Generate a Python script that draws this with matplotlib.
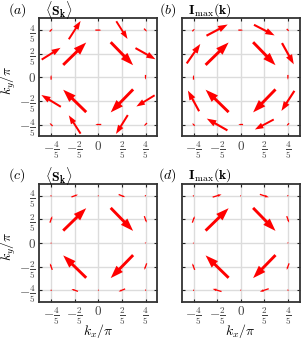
import numpy as np
import matplotlib
matplotlib.use('Agg')
import matplotlib.pyplot as plt

plt.rcParams['mathtext.fontset'] = 'cm'
plt.rcParams['font.family'] = 'serif'
plt.rcParams['font.serif'] = ['DejaVu Serif']

# k points (units of pi), 5x5 grid without the empty centre cross
kx = [-0.8, -0.4, 0.0, 0.4, 0.8,
      -0.8, -0.4, 0.4, 0.8,
      -0.8, 0.8,
      -0.8, -0.4, 0.4, 0.8,
      -0.8, -0.4, 0.0, 0.4, 0.8]
ky = [0.8, 0.8, 0.8, 0.8, 0.8,
      0.4, 0.4, 0.4, 0.4,
      0.0, 0.0,
      -0.4, -0.4, -0.4, -0.4,
      -0.8, -0.8, -0.8, -0.8, -0.8]

# (a) <S_k>
u_a = [0.05, 0.20, 0.10, 0.19, 0.05,
       0.32, 0.39, 0.38, 0.34,
       0.0, 0.0,
       -0.33, -0.39, -0.38, -0.31,
       -0.05, -0.20, -0.10, -0.20, -0.05]
v_a = [0.05, 0.31, 0.0, -0.30, -0.05,
       0.20, 0.38, -0.39, -0.19,
       0.08, -0.08,
       0.20, 0.38, -0.39, -0.19,
       0.05, 0.31, 0.0, -0.32, -0.05]

# (b) I_max(k)
u_b = [0.04, 0.36, 0.08, 0.35, 0.04,
       0.23, 0.39, 0.38, 0.20,
       0.0, 0.0,
       -0.19, -0.39, -0.38, -0.22,
       -0.04, -0.35, -0.08, -0.32, -0.04]
v_b = [0.04, 0.19, 0.0, -0.18, -0.04,
       0.33, 0.38, -0.39, -0.36,
       0.08, -0.08,
       0.35, 0.38, -0.39, -0.34,
       0.04, 0.20, 0.0, -0.17, -0.04]

# (c) <S_k>
u_c = [0.015, 0.11, 0.015, 0.11, 0.015,
       0.04, 0.39, 0.38, 0.04,
       0.0, 0.0,
       -0.04, -0.39, -0.38, -0.04,
       -0.015, -0.11, -0.015, -0.11, -0.015]
v_c = [0.015, 0.04, 0.0, -0.045, -0.015,
       0.11, 0.38, -0.39, -0.11,
       0.015, -0.015,
       0.11, 0.38, -0.39, -0.11,
       0.015, 0.04, 0.0, -0.045, -0.015]

# (d) I_max(k)
u_d = [0.015, 0.15, 0.015, 0.15, 0.015,
       0.04, 0.39, 0.38, 0.04,
       0.0, 0.0,
       -0.04, -0.39, -0.38, -0.04,
       -0.015, -0.15, -0.015, -0.15, -0.015]
v_d = [0.015, 0.045, 0.0, -0.05, -0.015,
       0.11, 0.38, -0.39, -0.11,
       0.015, -0.015,
       0.11, 0.38, -0.39, -0.11,
       0.015, 0.045, 0.0, -0.05, -0.015]

ticks = [-0.8, -0.4, 0.0, 0.4, 0.8]
tick_labels = [r'$-\frac{4}{5}$', r'$-\frac{2}{5}$', r'$0$', r'$\frac{2}{5}$', r'$\frac{4}{5}$']

panels = [
    ('(a)', r'$\langle\mathbf{S}_\mathbf{k}\rangle$', u_a, v_a),
    ('(b)', r'$\mathbf{I}_{\max}(\mathbf{k})$', u_b, v_b),
    ('(c)', r'$\langle\mathbf{S}_\mathbf{k}\rangle$', u_c, v_c),
    ('(d)', r'$\mathbf{I}_{\max}(\mathbf{k})$', u_d, v_d),
]

W, H = 302, 338
fig = plt.figure(figsize=(W / 100, H / 100), dpi=100)

lefts = [39.3, 181.7]
tops = [18.3, 184.0]
size = 118.0

for i, (tag, name, u, v) in enumerate(panels):
    row, col = divmod(i, 2)
    left = lefts[col]
    top = tops[row]
    ax = fig.add_axes([left / W, 1 - (top + size) / H, size / W, size / H])
    ax.set_xlim(-1, 1)
    ax.set_ylim(-1, 1)
    ax.set_aspect('equal')
    ax.set_xticks(ticks)
    ax.set_yticks(ticks)
    ax.set_xticklabels(tick_labels, fontsize=9.5)
    if col == 0:
        ax.set_yticklabels(tick_labels, fontsize=9.5)
    else:
        ax.set_yticklabels([])
    ax.tick_params(direction='in', length=2.5, width=0.8, top=True, right=True,
                   color='#222222', labelcolor='#444444', pad=2.5)
    ax.grid(True, color='#dcdcdc', lw=1.0)
    ax.set_axisbelow(True)
    for s in ax.spines.values():
        s.set_linewidth(1.3)
        s.set_color('#333333')

    for x, y, dx, dy in zip(kx, ky, u, v):
        L = np.hypot(dx, dy)
        if L == 0:
            continue
        w = max(0.09 * L, 0.022)
        hw = max(0.28 * L, w)
        hl = 0.4 * L
        ax.arrow(x - dx / 2, y - dy / 2, dx, dy, width=w, head_width=hw,
                 head_length=hl, length_includes_head=True, color='red',
                 lw=0, clip_on=False, zorder=3)

    ty = 1 - (top - 8.5) / H
    tag_x = 17 if col == 0 else 167.7
    name_x = 45 if col == 0 else 188.3
    fig.text(tag_x / W, ty, '$' + tag + '$', fontsize=10, ha='center', va='center')
    fig.text(name_x / W, ty, name, fontsize=10, ha='left', va='center')

    if col == 0:
        fig.text(8.5 / W, 1 - (top + 62) / H, r'$k_y/\pi$', fontsize=10,
                 rotation=90, ha='center', va='center')
    if row == 1:
        fig.text((left + size / 2) / W, 1 - 330.5 / H, r'$k_x/\pi$', fontsize=10,
                 ha='center', va='center')

fig.savefig('out.png', dpi=100)
